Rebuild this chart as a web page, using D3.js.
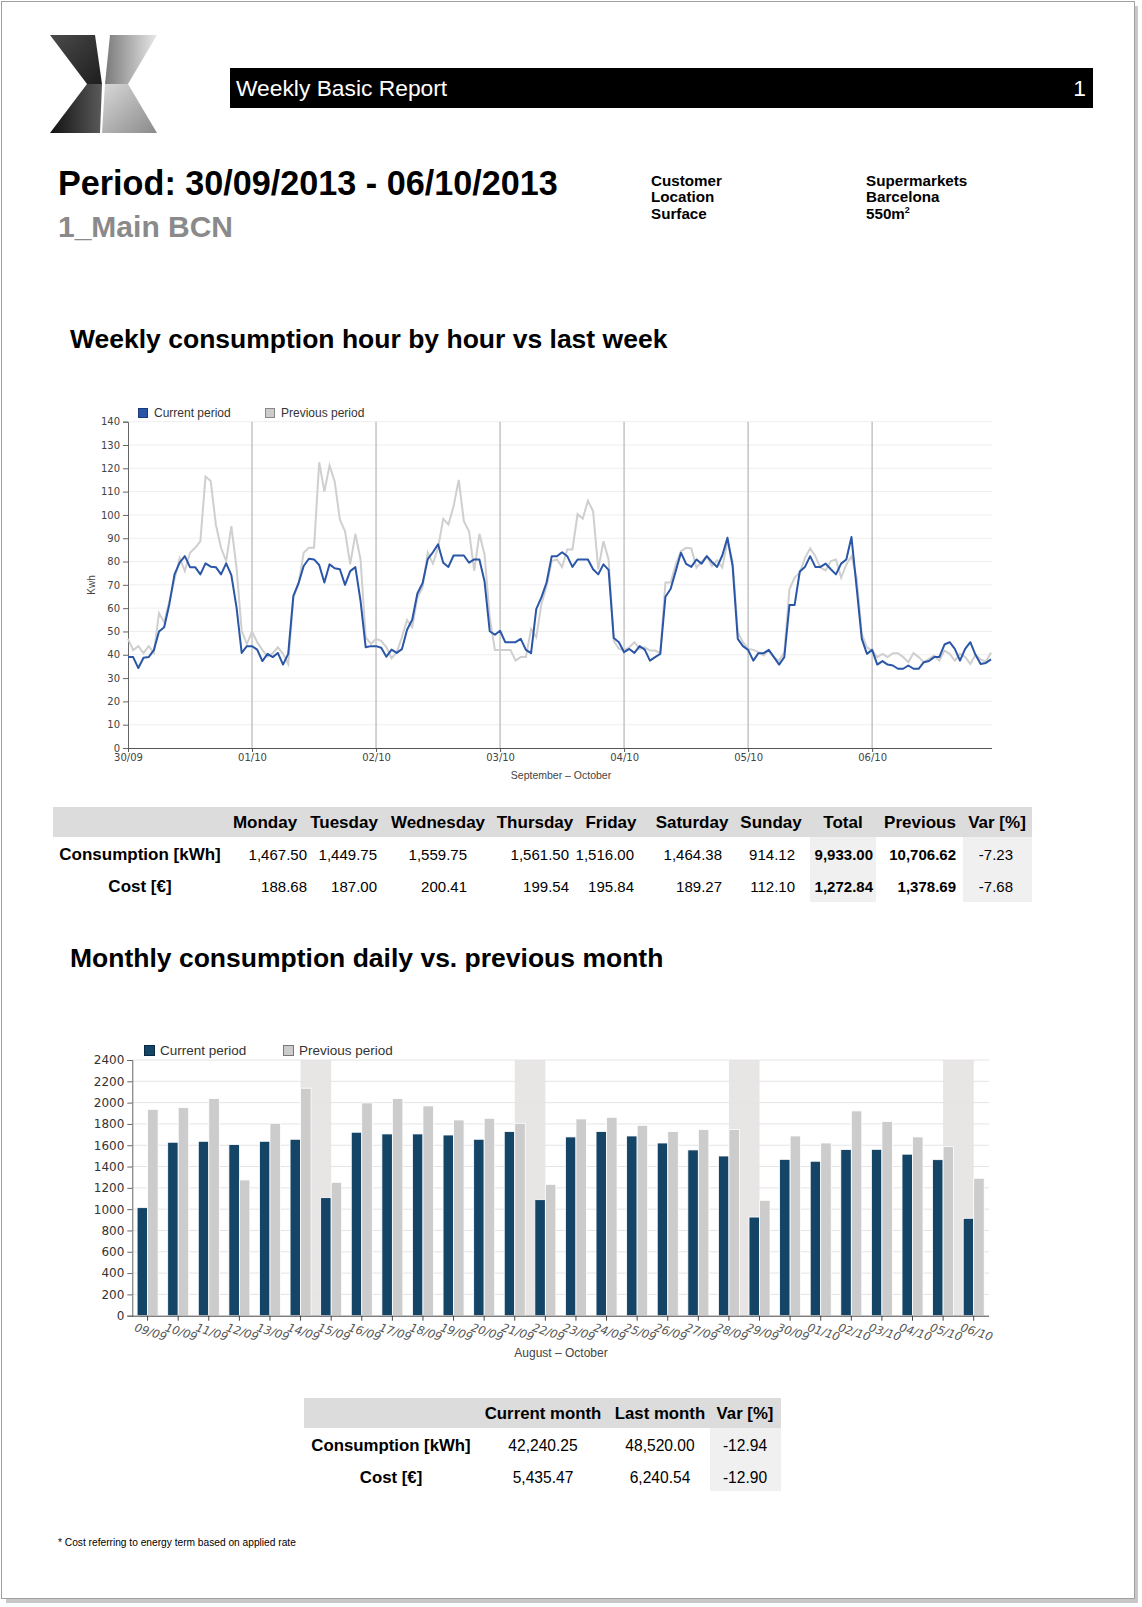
<!DOCTYPE html>
<html>
<head>
<meta charset="utf-8">
<script src="https://cdn.jsdelivr.net/npm/d3@7"></script>
<style>
  body { margin: 0; background: #fff; }
  svg { display: block; }
  text { font-family: "Liberation Sans", Arial, sans-serif; }
  .ax text { font-family: "DejaVu Sans", sans-serif; }
</style>
</head>
<body>
<div id="page"></div>
<script>
// ---- data ----
const hourLabels = ["30/09", "01/10", "02/10", "03/10", "04/10", "05/10", "06/10"];
const hourCurrent = [
  39, 39, 34.3, 38.7, 39, 42, 50, 51.8, 61.7, 74.5, 79.5, 82.3, 77.6, 77.6, 74.5, 79.2, 77.8, 77.6, 74.5, 79.2, 74.2, 60.3, 40.8, 43.7,
  43.7, 42.2, 37.3, 40.4, 39, 40.8, 35.8, 40.4, 65.3, 70.7, 78.1, 81.2, 80.9, 78.5, 71, 78.8, 77.1, 76.7, 70, 75.9, 77.6, 63.1, 43.2, 43.7,
  43.7, 43, 39.2, 42.2, 40.8, 42.4, 50.7, 55, 66.3, 70.7, 81, 84, 87.4, 79.5, 77.7, 82.6, 82.6, 82.6, 79.5, 80.9, 80.9, 71.4, 50.1, 48.6,
  50.3, 45.4, 45.4, 45.4, 46.8, 42.1, 40.7, 59.6, 64.6, 71, 82.3, 82.3, 84, 82.3, 77.7, 80.9, 80.9, 80.9, 76.7, 74.5, 78.8, 76.4, 47.2, 45.4,
  41.1, 42.5, 40.8, 43.7, 42.2, 37.5, 39, 40.4, 64.9, 68.2, 76, 83.8, 79, 77.7, 80.9, 79.1, 82.3, 79.8, 77.7, 82.6, 90.2, 78.1, 46.8, 43.7,
  42.1, 37.5, 40.7, 40.7, 42.1, 39, 35.8, 39, 61.4, 61.4, 75.7, 77.7, 82.3, 77.7, 77.7, 79.1, 76.7, 74.5, 79.1, 80.9, 90.5, 68.8, 46.8, 40.4,
  42.1, 35.8, 37.3, 35.8, 35.4, 34, 34, 35.4, 34, 34, 36.8, 37.3, 39, 39, 44.4, 45.4, 42.5, 37.5, 42.5, 45.4, 40, 36, 36.5, 38
];
const hourPrevious = [
  46.8, 42, 43.7, 40.7, 43.7, 40.8, 57.9, 53.9, 63, 72.4, 81.4, 76, 83.8, 85.9, 88.7, 116.5, 114.6, 95.9, 85.9, 80.2, 95.2, 77.4, 50.3, 44.6,
  50, 45.4, 42.1, 39.2, 40.7, 43.2, 40.4, 36, 64.6, 70.3, 83.8, 85.9, 85.9, 122.6, 110, 121.2, 114.3, 98, 93, 78.8, 91.9, 80.9, 47.5, 44.7,
  46.8, 46, 43.2, 38.5, 41, 47.5, 54.9, 51.8, 64.6, 68.8, 83.8, 79.1, 85.9, 98.3, 95.9, 103.7, 115, 97.3, 93, 76, 91.9, 83, 56, 42.1,
  42.1, 42.1, 42.1, 37.5, 39, 39, 51, 47.5, 61.7, 69.5, 80.2, 80.9, 77.7, 85.2, 85.2, 100.4, 98.4, 106.1, 101.6, 76.7, 88.7, 80.9, 46, 42.5,
  42, 43.2, 45.4, 42.5, 43.2, 41.8, 41.8, 40.7, 71, 71, 78.8, 84.5, 85.9, 85.6, 77.4, 79.9, 82.3, 78.1, 80.5, 77.4, 88.7, 80.2, 49.6, 45.4,
  42.5, 42.1, 41.1, 39.7, 41.8, 38.7, 37.5, 41.1, 68.1, 73.1, 75.2, 81.6, 85.6, 82.3, 77.4, 76.2, 80.2, 80.9, 73.1, 78.8, 82.3, 73.1, 48.9, 43.2,
  41.8, 39, 40.4, 39, 40.7, 40.7, 39, 36.8, 40.8, 39, 36.8, 38.3, 39.7, 37.5, 41.8, 40.4, 37.5, 40.4, 39, 36.1, 40, 38, 37, 41
];

const dayLabels = ["09/09", "10/09", "11/09", "12/09", "13/09", "14/09", "15/09", "16/09", "17/09", "18/09",
  "19/09", "20/09", "21/09", "22/09", "23/09", "24/09", "25/09", "26/09", "27/09", "28/09", "29/09", "30/09",
  "01/10", "02/10", "03/10", "04/10", "05/10", "06/10"];
const dayCurrent = [1014, 1628, 1637, 1606, 1637, 1656, 1108, 1722, 1706, 1706, 1696, 1656, 1728, 1089,
  1678, 1728, 1687, 1621, 1556, 1499, 926, 1467.5, 1449.75, 1559.75, 1561.5, 1516, 1464.38, 914.12];
const dayPrevious = [1937, 1953, 2038, 1274, 1806, 2135, 1252, 1997, 2038, 1969, 1837, 1853, 1806, 1233,
  1847, 1862, 1787, 1728, 1747, 1747, 1083, 1687, 1621, 1922, 1822, 1678, 1587, 1290];
const weekendBands = [["14/09", "15/09"], ["21/09", "22/09"], ["28/09", "29/09"], ["05/10", "06/10"]];

const weekHeaders = ["Monday", "Tuesday", "Wednesday", "Thursday", "Friday", "Saturday", "Sunday", "Total", "Previous", "Var [%]"];
const weekRows = ["Consumption [kWh]", "Cost [€]"];
const weekConsumption = ["1,467.50", "1,449.75", "1,559.75", "1,561.50", "1,516.00", "1,464.38", "914.12", "9,933.00", "10,706.62", "-7.23"];
const weekCost = ["188.68", "187.00", "200.41", "199.54", "195.84", "189.27", "112.10", "1,272.84", "1,378.69", "-7.68"];

const monthHeaders = ["Current month", "Last month", "Var [%]"];
const monthConsumption = ["42,240.25", "48,520.00", "-12.94"];
const monthCost = ["5,435.47", "6,240.54", "-12.90"];

const W = 1142, H = 1607;
const svg = d3.select("#page").append("svg").attr("width", W).attr("height", H);
const defs = svg.append("defs");

// page frame with shadow
svg.append("rect").attr("x", 6).attr("y", 6).attr("width", 1132).attr("height", 1597).attr("fill", "#c8c8c8");
svg.append("rect").attr("x", 1.5).attr("y", 1.5).attr("width", 1133).attr("height", 1597)
  .attr("fill", "#fff").attr("stroke", "#a0a0a0");

// ---- logo ----
function grad(id, stops, x2, y2) {
  const g = defs.append("linearGradient").attr("id", id).attr("x1", 0).attr("y1", 0).attr("x2", x2).attr("y2", y2);
  stops.forEach(s => g.append("stop").attr("offset", s[0]).attr("stop-color", s[1]));
}
grad("gDarkTop", [[0, "#4a4a4a"], [1, "#1e1e1e"]], 1, 1);
grad("gDarkBot", [[0, "#111"], [1, "#5a5a5a"]], 1, 0);
grad("gLightTop", [[0, "#7a7a7a"], [1, "#e8e8e8"]], 1, 0);
grad("gLightBot", [[0, "#d8d8d8"], [1, "#8a8a8a"]], 1, 1);
const logo = svg.append("g");
logo.append("polygon").attr("points", "50,35 95,35 102,84 87,84").attr("fill", "url(#gDarkTop)");
logo.append("polygon").attr("points", "87,84 102,84 100,133 50,133").attr("fill", "url(#gDarkBot)");
logo.append("polygon").attr("points", "110,35 157,35 128,84 105,84").attr("fill", "url(#gLightTop)");
logo.append("polygon").attr("points", "105,84 128,84 157,133 102,133").attr("fill", "url(#gLightBot)");

// ---- header ----
svg.append("rect").attr("x", 230).attr("y", 68).attr("width", 863).attr("height", 40).attr("fill", "#000");
svg.append("text").attr("x", 236).attr("y", 96).attr("fill", "#fff").attr("font-size", 22.8).text("Weekly Basic Report");
svg.append("text").attr("x", 1086).attr("y", 96).attr("fill", "#fff").attr("font-size", 22.8).attr("text-anchor", "end").text("1");

svg.append("text").attr("x", 58).attr("y", 195).attr("font-size", 34.2).attr("font-weight", "bold")
  .text("Period: 30/09/2013 - 06/10/2013");
svg.append("text").attr("x", 58).attr("y", 237).attr("font-size", 30).attr("font-weight", "bold").attr("fill", "#8a8a8a")
  .text("1_Main BCN");

const infoKeys = ["Customer", "Location", "Surface"];
const infoVals = ["Supermarkets", "Barcelona", "550m"];
infoKeys.forEach((k, i) => {
  svg.append("text").attr("x", 651).attr("y", 186 + i * 16.3).attr("font-size", 15.2).attr("font-weight", "bold").text(k);
  const t = svg.append("text").attr("x", 866).attr("y", 186 + i * 16.3).attr("font-size", 15.2).attr("font-weight", "bold").text(infoVals[i]);
  if (i === 2) t.append("tspan").attr("font-size", 9).attr("dy", -6).text("2");
});

// ---- section titles ----
svg.append("text").attr("x", 70).attr("y", 348).attr("font-size", 26.5).attr("font-weight", "bold")
  .text("Weekly consumption hour by hour vs last week");
svg.append("text").attr("x", 70).attr("y", 967).attr("font-size", 26.5).attr("font-weight", "bold")
  .text("Monthly consumption daily vs. previous month");

// ---- line chart ----
const xL = d3.scaleLinear().domain([0, 167]).range([128, 991]);
const yL = d3.scaleLinear().domain([0, 140]).range([748, 421.7]);
const gL = svg.append("g");

gL.append("g").attr("class", "ax")
  .attr("transform", "translate(128,0)")
  .call(d3.axisLeft(yL).tickValues(d3.range(0, 141, 10)).tickSize(5).tickPadding(3))
  .call(g => g.select(".domain").attr("stroke", "#666"))
  .call(g => g.selectAll(".tick line").attr("stroke", "#666"))
  .call(g => g.selectAll(".tick text").attr("font-size", 10).attr("fill", "#444"));
gL.append("g").selectAll("line").data(d3.range(10, 141, 10)).join("line")
  .attr("x1", 129).attr("x2", 992).attr("y1", d => yL(d)).attr("y2", d => yL(d))
  .attr("stroke", "#eeeeee");
gL.append("g").selectAll("line").data(d3.range(1, 7)).join("line")
  .attr("x1", d => xL(d * 24)).attr("x2", d => xL(d * 24)).attr("y1", yL(140)).attr("y2", yL(0))
  .attr("stroke", "#c4c4c4").attr("stroke-width", 1.5);

gL.append("g").attr("class", "ax")
  .attr("transform", `translate(0,${yL(0)})`)
  .call(d3.axisBottom(xL).tickValues(d3.range(0, 145, 24)).tickFormat((d, i) => hourLabels[i]).tickSize(4).tickPadding(2))
  .call(g => g.select(".domain").attr("stroke", "#555").attr("d", "M128,0.5H992"))
  .call(g => g.selectAll(".tick line").attr("stroke", "#555"))
  .call(g => g.selectAll(".tick text").attr("font-size", 10).attr("fill", "#444"));

const line = d3.line().x((d, i) => xL(i)).y(d => yL(d));
gL.append("path").datum(hourPrevious).attr("d", line).attr("fill", "none").attr("stroke", "#cfcfcf").attr("stroke-width", 2);
gL.append("path").datum(hourCurrent).attr("d", line).attr("fill", "none").attr("stroke", "#2a56a8").attr("stroke-width", 2)
  .attr("stroke-linejoin", "round");

gL.append("text").attr("x", 561).attr("y", 779).attr("text-anchor", "middle").attr("font-size", 10.5)
  .attr("fill", "#444").attr("font-family", "DejaVu Sans").text("September – October");
gL.append("text").attr("transform", "translate(95,585) rotate(-90)").attr("text-anchor", "middle")
  .attr("font-size", 10).attr("fill", "#444").attr("font-family", "DejaVu Sans").text("Kwh");

const legL = [["Current period", "#2a56a8", "#1a3a7a", 138], ["Previous period", "#cccccc", "#888", 265]];
legL.forEach(l => {
  gL.append("rect").attr("x", l[3] + 0.5).attr("y", 408.5).attr("width", 9).attr("height", 9).attr("fill", l[1]).attr("stroke", l[2]);
  gL.append("text").attr("x", l[3] + 16).attr("y", 417).attr("font-size", 12).attr("fill", "#333")
    .attr("font-family", "DejaVu Sans").text(l[0]);
});

// ---- weekly table ----
const t1 = svg.append("g");
const hdrCenter = [265, 344, 438, 535, 611, 692, 771, 843, 920, 997];
const valRight = [307, 377, 467, 569, 634, 722, 795, 873, 956, 1013];
t1.append("rect").attr("x", 53).attr("y", 807).attr("width", 979).attr("height", 30).attr("fill", "#dcdcdc");
t1.append("rect").attr("x", 810).attr("y", 837).attr("width", 66).attr("height", 65).attr("fill", "#f0f0f0");
t1.append("rect").attr("x", 963).attr("y", 837).attr("width", 69).attr("height", 65).attr("fill", "#f0f0f0");
t1.selectAll("text.h").data(weekHeaders).join("text").attr("class", "h")
  .attr("x", (d, i) => hdrCenter[i]).attr("y", 828).attr("text-anchor", "middle")
  .attr("font-size", 17).attr("font-weight", "bold").text(d => d);
[weekConsumption, weekCost].forEach((row, r) => {
  t1.append("text").attr("x", 140).attr("y", 860 + r * 32).attr("text-anchor", "middle")
    .attr("font-size", 17).attr("font-weight", "bold").text(weekRows[r]);
  t1.selectAll(null).data(row).join("text")
    .attr("x", (d, i) => valRight[i]).attr("y", 860 + r * 32).attr("text-anchor", "end")
    .attr("font-size", 15).attr("font-weight", (d, i) => (i === 7 || i === 8) ? "bold" : "normal").text(d => d);
});

// ---- bar chart ----
const x0 = d3.scaleBand().domain(dayLabels).range([132.3, 989]);
const yB = d3.scaleLinear().domain([0, 2400]).range([1315.7, 1060]);
const gB = svg.append("g");
const bw = 10.5;

gB.selectAll("rect.band").data(weekendBands).join("rect").attr("class", "band")
  .attr("x", d => x0(d[0]) + x0.bandwidth() / 2).attr("width", x0.step())
  .attr("y", yB(2400)).attr("height", yB(0) - yB(2400)).attr("fill", "#e8e5e5");
gB.append("g").selectAll("line").data(d3.range(200, 2401, 200)).join("line")
  .attr("x1", 133).attr("x2", 989).attr("y1", d => yB(d)).attr("y2", d => yB(d)).attr("stroke", "#e4e4e4");

gB.append("g").attr("class", "ax")
  .attr("transform", "translate(132.3,0)")
  .call(d3.axisLeft(yB).tickValues(d3.range(0, 2401, 200)).tickFormat(d3.format("d")).tickSize(5).tickPadding(3))
  .call(g => g.select(".domain").attr("stroke", "#666"))
  .call(g => g.selectAll(".tick line").attr("stroke", "#666"))
  .call(g => g.selectAll(".tick text").attr("font-size", 12).attr("fill", "#333"));

const groups = gB.selectAll("g.day").data(dayLabels).join("g").attr("class", "day")
  .attr("transform", d => `translate(${x0(d) + x0.bandwidth() / 2},0)`);
groups.append("rect").attr("x", -bw).attr("width", bw)
  .attr("y", (d, i) => yB(dayCurrent[i])).attr("height", (d, i) => yB(0) - yB(dayCurrent[i]))
  .attr("fill", "#144466").attr("stroke", "#fff").attr("stroke-width", 0.8);
groups.append("rect").attr("x", 0).attr("width", bw)
  .attr("y", (d, i) => yB(dayPrevious[i])).attr("height", (d, i) => yB(0) - yB(dayPrevious[i]))
  .attr("fill", "#cccccc").attr("stroke", "#fff").attr("stroke-width", 0.8);

gB.append("g").attr("class", "ax")
  .attr("transform", `translate(0,${yB(0)})`)
  .call(d3.axisBottom(x0).tickSize(5).tickPadding(4))
  .call(g => g.select(".domain").attr("stroke", "#444").attr("d", "M132.3,0.5H989"))
  .call(g => g.selectAll(".tick line").attr("stroke", "#444"))
  .call(g => g.selectAll(".tick text").attr("font-size", 11.5).attr("fill", "#555").attr("font-style", "italic")
    .attr("text-anchor", "start").attr("dy", "0.6em").attr("transform", "translate(-9,0) rotate(18)"));

gB.append("text").attr("x", 561).attr("y", 1357).attr("text-anchor", "middle").attr("font-size", 12)
  .attr("fill", "#444").attr("font-family", "DejaVu Sans").text("August – October");

const legB = [["Current period", "#144466", "#0a2a44", 144], ["Previous period", "#cccccc", "#777", 283]];
legB.forEach(l => {
  gB.append("rect").attr("x", l[3] + 0.5).attr("y", 1045.5).attr("width", 10).attr("height", 10).attr("fill", l[1]).attr("stroke", l[2]);
  gB.append("text").attr("x", l[3] + 16).attr("y", 1055).attr("font-size", 13.5).attr("fill", "#333")
    .attr("font-family", "DejaVu Sans").text(l[0]);
});

// ---- monthly table ----
const t2 = svg.append("g");
const mCenter = [543, 660, 745];
t2.append("rect").attr("x", 304).attr("y", 1398).attr("width", 477).attr("height", 30).attr("fill", "#dcdcdc");
t2.append("rect").attr("x", 710).attr("y", 1428).attr("width", 71).attr("height", 63).attr("fill", "#f0f0f0");
t2.selectAll("text.h").data(monthHeaders).join("text").attr("class", "h")
  .attr("x", (d, i) => mCenter[i]).attr("y", 1419).attr("text-anchor", "middle")
  .attr("font-size", 16.8).attr("font-weight", "bold").text(d => d);
[monthConsumption, monthCost].forEach((row, r) => {
  t2.append("text").attr("x", 391).attr("y", 1451 + r * 32).attr("text-anchor", "middle")
    .attr("font-size", 16.8).attr("font-weight", "bold").text(weekRows[r]);
  t2.selectAll(null).data(row).join("text")
    .attr("x", (d, i) => mCenter[i]).attr("y", 1451 + r * 32).attr("text-anchor", "middle")
    .attr("font-size", 15.6).text(d => d);
});

svg.append("text").attr("x", 58).attr("y", 1546).attr("font-size", 10.2).text("* Cost referring to energy term based on applied rate");
</script>
</body>
</html>
